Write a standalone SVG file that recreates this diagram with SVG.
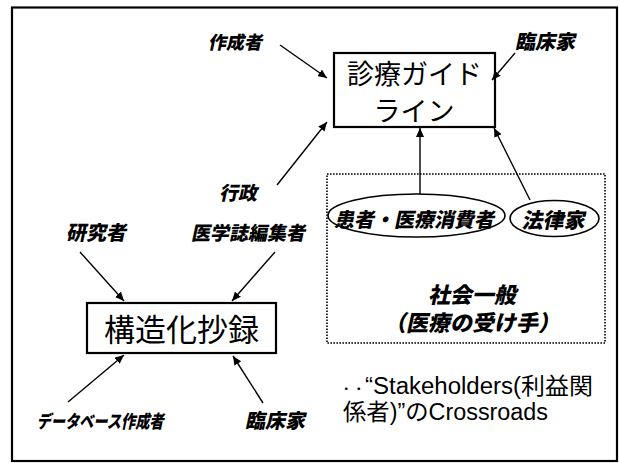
<svg xmlns="http://www.w3.org/2000/svg" width="620" height="463" viewBox="0 0 620 463">
<defs>
<marker id="ah" markerUnits="userSpaceOnUse" markerWidth="9" markerHeight="8" refX="9" refY="4" orient="auto">
<path d="M0,0 L9,4 L0,8 z" fill="#000"/>
</marker>
</defs>
<style>
.box{fill:#fff;stroke:#000;stroke-width:2.2}
.ell{fill:#fff;stroke:#000;stroke-width:1.6}
.lbl{font-family:"Noto Sans CJK JP",sans-serif;font-weight:900;text-anchor:middle;fill:#000}
.big{font-family:"Noto Sans CJK JP",sans-serif;text-anchor:middle;fill:#000}
.note{font-family:"Liberation Sans","Noto Sans CJK JP",sans-serif;font-size:23px;fill:#000}
.con{stroke:#000;stroke-width:1.4;fill:none;marker-end:url(#ah)}
</style>
<rect x="0" y="0" width="620" height="463" fill="#fff"/>
<rect x="12" y="7.5" width="605" height="453.5" fill="none" stroke="#000" stroke-width="2.2"/>

<g id="society">
<rect x="327" y="174" width="278" height="169" fill="none" stroke="#000" stroke-width="1.6" stroke-dasharray="1.6,1.4"/>
<text class="lbl" transform="translate(472,303) skewX(-12)" font-size="22">社会一般</text>
<text class="lbl" transform="translate(472,331) skewX(-12)" font-size="22">（医療の受け手）</text>
</g>

<g id="guideline">
<rect class="box" x="334" y="53" width="161" height="74"/>
<text class="big" x="414.5" y="84" font-size="27">診療ガイド</text>
<text class="big" x="414" y="121" font-size="27">ライン</text>
</g>

<g id="abstract">
<rect class="box" x="87" y="303" width="189" height="50"/>
<text class="big" x="181.5" y="341" font-size="31">構造化抄録</text>
</g>

<g id="patient">
<ellipse class="ell" cx="416.5" cy="215.5" rx="88.5" ry="21.5"/>
<text class="lbl" transform="translate(414,227) skewX(-12)" font-size="20">患者・医療消費者</text>
</g>
<g id="lawyer">
<ellipse class="ell" cx="554.5" cy="218.5" rx="44.5" ry="18"/>
<text class="lbl" transform="translate(553,228) skewX(-12)" font-size="21">法律家</text>
</g>

<g id="author"><text class="lbl" transform="translate(235,49) skewX(-12)" font-size="18">作成者</text></g>
<g id="clinician1"><text class="lbl" transform="translate(545,49) skewX(-12)" font-size="20">臨床家</text></g>
<g id="admin"><text class="lbl" transform="translate(238,200) skewX(-12)" font-size="19">行政</text></g>
<g id="researcher"><text class="lbl" transform="translate(96,240) skewX(-12)" font-size="20">研究者</text></g>
<g id="editor"><text class="lbl" transform="translate(248,240) skewX(-12)" font-size="19">医学誌編集者</text></g>
<g id="dbauthor"><text class="lbl" transform="translate(100,428) skewX(-12)" font-size="18" x="0" textLength="127" lengthAdjust="spacingAndGlyphs">データベース作成者</text></g>
<g id="clinician2"><text class="lbl" transform="translate(275,428) skewX(-12)" font-size="20">臨床家</text></g>

<g id="note">
<text class="note" x="340" y="394" textLength="253" lengthAdjust="spacingAndGlyphs"><tspan font-size="12">・・</tspan>“Stakeholders(利益関</text>
<text class="note" x="343" y="420" textLength="205" lengthAdjust="spacingAndGlyphs">係者)”のCrossroads</text>
</g>

<g id="connectors">
<line class="con" x1="280" y1="45" x2="327" y2="78"/>
<line class="con" x1="515" y1="53" x2="492" y2="80"/>
<line class="con" x1="277" y1="185" x2="327" y2="122"/>
<line class="con" x1="420" y1="194" x2="420" y2="128"/>
<line class="con" x1="530" y1="200" x2="494" y2="128"/>
<line class="con" x1="80" y1="252" x2="124" y2="301"/>
<line class="con" x1="275" y1="252" x2="232" y2="301"/>
<line class="con" x1="68" y1="402" x2="124" y2="355"/>
<line class="con" x1="263" y1="403" x2="233" y2="356"/>
</g>
</svg>
